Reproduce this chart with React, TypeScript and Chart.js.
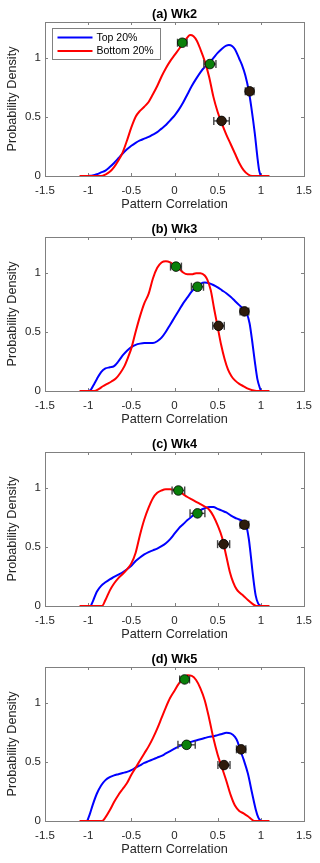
import React, { useEffect, useRef } from "react";
import { Chart, registerables } from "chart.js";

Chart.register(...registerables);

// ---------- data ----------
const X_TICKS = [-1.5, -1, -0.5, 0, 0.5, 1, 1.5];
const Y_TICKS = [0, 0.5, 1];
const X_MIN = -1.5;
const X_MAX = 1.5;
const Y_MIN = 0;
const Y_MAX = 1.3;

const PANEL_TITLES = ["(a) Wk2", "(b) Wk3", "(c) Wk4", "(d) Wk5"];
const SERIES_NAMES = ["Top 20%", "Bottom 20%"];
const X_LABEL = "Pattern Correlation";
const Y_LABEL = "Probability Density";

// PDF curves: [pattern correlation, density]
const TOP_WK2: [number, number][] = [
  [-1.0, 0], [-0.95, 0.005], [-0.9, 0.015], [-0.85, 0.03], [-0.8, 0.045], [-0.75, 0.075],
  [-0.7, 0.11], [-0.65, 0.15], [-0.6, 0.19], [-0.55, 0.225], [-0.5, 0.255], [-0.45, 0.28],
  [-0.4, 0.3], [-0.35, 0.315], [-0.3, 0.33], [-0.25, 0.35], [-0.2, 0.37], [-0.15, 0.4],
  [-0.1, 0.43], [-0.05, 0.47], [0, 0.51], [0.05, 0.56], [0.1, 0.62], [0.15, 0.69],
  [0.2, 0.76], [0.25, 0.82], [0.3, 0.875], [0.35, 0.92], [0.4, 0.95], [0.45, 0.995],
  [0.5, 1.04], [0.55, 1.075], [0.6, 1.1], [0.63, 1.105], [0.67, 1.095], [0.7, 1.07],
  [0.75, 0.99], [0.78, 0.94], [0.82, 0.85], [0.86, 0.72], [0.89, 0.58], [0.93, 0.36],
  [0.96, 0.16], [0.98, 0.05], [1.0, 0],
];
const BOTTOM_WK2: [number, number][] = [
  [-1.1, 0], [-0.85, 0], [-0.8, 0.012], [-0.75, 0.035], [-0.7, 0.075], [-0.65, 0.13],
  [-0.6, 0.2], [-0.55, 0.3], [-0.5, 0.41], [-0.45, 0.5], [-0.4, 0.55], [-0.35, 0.585],
  [-0.3, 0.625], [-0.25, 0.69], [-0.2, 0.76], [-0.15, 0.84], [-0.1, 0.91], [-0.05, 0.97],
  [0, 1.02], [0.05, 1.07], [0.1, 1.12], [0.15, 1.17], [0.18, 1.19], [0.22, 1.18],
  [0.26, 1.14], [0.3, 1.07], [0.35, 0.97], [0.4, 0.84], [0.45, 0.67], [0.5, 0.54],
  [0.55, 0.44], [0.6, 0.35], [0.65, 0.27], [0.7, 0.19], [0.75, 0.11], [0.8, 0.05],
  [0.85, 0.015], [0.9, 0], [1.1, 0],
];
const TOP_WK3: [number, number][] = [
  [-1.0, 0], [-0.97, 0.01], [-0.93, 0.06], [-0.9, 0.1], [-0.85, 0.16], [-0.8, 0.19],
  [-0.75, 0.2], [-0.7, 0.21], [-0.65, 0.25], [-0.6, 0.3], [-0.55, 0.34], [-0.5, 0.37],
  [-0.45, 0.39], [-0.4, 0.4], [-0.35, 0.405], [-0.3, 0.405], [-0.25, 0.405], [-0.2, 0.42],
  [-0.15, 0.45], [-0.1, 0.5], [-0.05, 0.56], [0, 0.62], [0.05, 0.68], [0.1, 0.74],
  [0.15, 0.79], [0.2, 0.84], [0.25, 0.88], [0.3, 0.905], [0.35, 0.915], [0.4, 0.91],
  [0.45, 0.895], [0.5, 0.875], [0.55, 0.85], [0.6, 0.825], [0.65, 0.795], [0.7, 0.76],
  [0.75, 0.725], [0.8, 0.69], [0.84, 0.65], [0.87, 0.57], [0.9, 0.42], [0.93, 0.25],
  [0.96, 0.1], [1.0, 0],
];
const BOTTOM_WK3: [number, number][] = [
  [-1.1, 0], [-0.93, 0], [-0.88, 0.015], [-0.83, 0.04], [-0.78, 0.06], [-0.73, 0.08],
  [-0.68, 0.105], [-0.63, 0.15], [-0.58, 0.21], [-0.54, 0.28], [-0.5, 0.36], [-0.45, 0.5],
  [-0.4, 0.63], [-0.35, 0.74], [-0.3, 0.82], [-0.25, 0.95], [-0.2, 1.04], [-0.15, 1.085],
  [-0.1, 1.095], [-0.05, 1.085], [0, 1.06], [0.05, 1.035], [0.1, 1.0], [0.15, 0.985],
  [0.2, 0.985], [0.25, 0.995], [0.3, 0.995], [0.35, 0.975], [0.38, 0.94], [0.42, 0.85],
  [0.46, 0.69], [0.5, 0.54], [0.54, 0.39], [0.58, 0.27], [0.62, 0.18], [0.66, 0.125],
  [0.7, 0.09], [0.75, 0.06], [0.8, 0.04], [0.85, 0.02], [0.9, 0.007], [0.95, 0], [1.1, 0],
];
const TOP_WK4: [number, number][] = [
  [-0.97, 0], [-0.94, 0.05], [-0.9, 0.12], [-0.85, 0.17], [-0.8, 0.2], [-0.75, 0.225],
  [-0.7, 0.245], [-0.65, 0.265], [-0.6, 0.285], [-0.55, 0.31], [-0.5, 0.34], [-0.45, 0.38],
  [-0.4, 0.41], [-0.35, 0.435], [-0.3, 0.455], [-0.25, 0.47], [-0.2, 0.485], [-0.15, 0.505],
  [-0.1, 0.53], [-0.05, 0.565], [0, 0.61], [0.05, 0.655], [0.1, 0.69], [0.15, 0.725],
  [0.2, 0.755], [0.25, 0.785], [0.3, 0.81], [0.35, 0.825], [0.4, 0.835], [0.45, 0.835],
  [0.5, 0.82], [0.55, 0.805], [0.6, 0.79], [0.65, 0.765], [0.7, 0.745], [0.75, 0.73],
  [0.8, 0.71], [0.83, 0.68], [0.86, 0.57], [0.88, 0.45], [0.91, 0.25], [0.94, 0.09],
  [0.97, 0.02], [1.0, 0],
];
const BOTTOM_WK4: [number, number][] = [
  [-1.1, 0], [-0.84, 0], [-0.8, 0.05], [-0.75, 0.13], [-0.7, 0.19], [-0.65, 0.235],
  [-0.6, 0.27], [-0.55, 0.31], [-0.5, 0.36], [-0.45, 0.45], [-0.4, 0.6], [-0.35, 0.73],
  [-0.3, 0.83], [-0.25, 0.91], [-0.2, 0.955], [-0.15, 0.975], [-0.1, 0.985], [-0.05, 0.985],
  [0, 0.98], [0.05, 0.97], [0.1, 0.945], [0.15, 0.92], [0.2, 0.9], [0.25, 0.88],
  [0.3, 0.86], [0.35, 0.84], [0.4, 0.815], [0.45, 0.76], [0.5, 0.68], [0.55, 0.58],
  [0.6, 0.42], [0.64, 0.29], [0.68, 0.2], [0.72, 0.14], [0.76, 0.11], [0.8, 0.085],
  [0.85, 0.05], [0.9, 0.02], [0.95, 0], [1.1, 0],
];
const TOP_WK5: [number, number][] = [
  [-1.01, 0], [-0.98, 0.06], [-0.95, 0.13], [-0.9, 0.23], [-0.85, 0.3], [-0.8, 0.345],
  [-0.75, 0.37], [-0.7, 0.385], [-0.65, 0.395], [-0.6, 0.405], [-0.55, 0.415], [-0.5, 0.43],
  [-0.45, 0.45], [-0.4, 0.47], [-0.35, 0.49], [-0.3, 0.505], [-0.25, 0.52], [-0.2, 0.535],
  [-0.15, 0.55], [-0.1, 0.57], [-0.05, 0.59], [0, 0.61], [0.05, 0.63], [0.1, 0.645],
  [0.15, 0.66], [0.2, 0.67], [0.25, 0.68], [0.3, 0.69], [0.35, 0.7], [0.4, 0.71],
  [0.45, 0.715], [0.5, 0.725], [0.55, 0.735], [0.6, 0.745], [0.65, 0.74], [0.7, 0.71],
  [0.73, 0.67], [0.76, 0.6], [0.8, 0.52], [0.85, 0.4], [0.9, 0.23], [0.94, 0.1],
  [0.97, 0.03], [1.0, 0],
];
const BOTTOM_WK5: [number, number][] = [
  [-1.1, 0], [-0.84, 0], [-0.8, 0.03], [-0.75, 0.09], [-0.7, 0.16], [-0.65, 0.22],
  [-0.6, 0.27], [-0.55, 0.32], [-0.5, 0.39], [-0.45, 0.45], [-0.4, 0.51], [-0.35, 0.57],
  [-0.3, 0.63], [-0.25, 0.7], [-0.2, 0.78], [-0.15, 0.87], [-0.1, 0.96], [-0.05, 1.04],
  [0, 1.1], [0.05, 1.16], [0.1, 1.2], [0.15, 1.23], [0.2, 1.225], [0.25, 1.19],
  [0.3, 1.12], [0.35, 1.02], [0.4, 0.87], [0.45, 0.7], [0.5, 0.56], [0.55, 0.45],
  [0.6, 0.34], [0.65, 0.22], [0.7, 0.13], [0.75, 0.085], [0.8, 0.065], [0.85, 0.04],
  [0.9, 0.01], [0.93, 0], [1.1, 0],
];

// Markers: [x, y, half-width of error bar]
const GREEN_WK2: [number, number, number][] = [[0.09, 1.125, 0.055], [0.41, 0.945, 0.07]];
const DARK_WK2: [number, number, number][] = [[0.545, 0.465, 0.09], [0.87, 0.715, 0.05]];
const GREEN_WK3: [number, number, number][] = [[0.017, 1.05, 0.063], [0.266, 0.88, 0.07]];
const DARK_WK3: [number, number, number][] = [[0.51, 0.55, 0.067], [0.81, 0.672, 0.05]];
const GREEN_WK4: [number, number, number][] = [[0.045, 0.975, 0.073], [0.266, 0.782, 0.086]];
const DARK_WK4: [number, number, number][] = [[0.569, 0.522, 0.07], [0.81, 0.686, 0.05]];
const GREEN_WK5: [number, number, number][] = [[0.117, 1.195, 0.057], [0.14, 0.643, 0.1]];
const DARK_WK5: [number, number, number][] = [[0.573, 0.472, 0.07], [0.772, 0.605, 0.054]];

const PANELS = [
  { title: PANEL_TITLES[0], top: TOP_WK2, bottom: BOTTOM_WK2, green: GREEN_WK2, dark: DARK_WK2, legend: true },
  { title: PANEL_TITLES[1], top: TOP_WK3, bottom: BOTTOM_WK3, green: GREEN_WK3, dark: DARK_WK3, legend: false },
  { title: PANEL_TITLES[2], top: TOP_WK4, bottom: BOTTOM_WK4, green: GREEN_WK4, dark: DARK_WK4, legend: false },
  { title: PANEL_TITLES[3], top: TOP_WK5, bottom: BOTTOM_WK5, green: GREEN_WK5, dark: DARK_WK5, legend: false },
];

// ---------- styling ----------
const FONT = '"Liberation Sans", Arial, Helvetica, sans-serif';
const AXIS_COLOR = "#808080";
const TEXT_COLOR = "#262626";
const BLUE = "#0000ff";
const RED = "#ff0000";
const GREEN = "#0a800a";
const DARK = "#2e1c0c";
const ERR_COLOR = "#454545";
const PANEL_W = 320;
const PANEL_H = 215;

type Panel = typeof PANELS[number];

function makePlugin(panel: Panel) {
  return {
    id: "matlabDecor",
    beforeDatasetsDraw(chart: any) {
      const { ctx, chartArea } = chart;
      const { left, right, top, bottom } = chartArea;
      const xs = chart.scales.x;
      const ys = chart.scales.y;
      ctx.save();
      ctx.strokeStyle = AXIS_COLOR;
      ctx.lineWidth = 1;
      ctx.strokeRect(Math.round(left) + 0.5, Math.round(top) + 0.5, Math.round(right - left), Math.round(bottom - top));
      const tl = 3;
      ctx.beginPath();
      X_TICKS.forEach((v) => {
        const px = Math.round(xs.getPixelForValue(v)) + 0.5;
        ctx.moveTo(px, bottom);
        ctx.lineTo(px, bottom - tl);
        ctx.moveTo(px, top);
        ctx.lineTo(px, top + tl);
      });
      Y_TICKS.forEach((v) => {
        const py = Math.round(ys.getPixelForValue(v)) + 0.5;
        ctx.moveTo(left, py);
        ctx.lineTo(left + tl, py);
        ctx.moveTo(right, py);
        ctx.lineTo(right - tl, py);
      });
      ctx.stroke();
      ctx.restore();
    },
    afterDraw(chart: any) {
      const { ctx, chartArea } = chart;
      ctx.save();
      ctx.fillStyle = "#000";
      ctx.font = `bold 12.7px ${FONT}`;
      ctx.textAlign = "center";
      ctx.textBaseline = "middle";
      ctx.fillText(panel.title, (chartArea.left + chartArea.right) / 2, 14);
      if (panel.legend) {
        const bx = chartArea.left + 7.5;
        const by = chartArea.top + 6.5;
        const bw = 108;
        const bh = 31;
        ctx.fillStyle = "#fff";
        ctx.fillRect(bx, by, bw, bh);
        ctx.strokeStyle = AXIS_COLOR;
        ctx.lineWidth = 1;
        ctx.strokeRect(bx, by, bw, bh);
        const colors = [BLUE, RED];
        SERIES_NAMES.forEach((name, i) => {
          const ly = by + 9 + i * 13.5;
          ctx.strokeStyle = colors[i];
          ctx.lineWidth = 2;
          ctx.beginPath();
          ctx.moveTo(bx + 5, ly);
          ctx.lineTo(bx + 40, ly);
          ctx.stroke();
          ctx.fillStyle = "#000";
          ctx.font = `10.5px ${FONT}`;
          ctx.textAlign = "left";
          ctx.textBaseline = "middle";
          ctx.fillText(name, bx + 44, ly + 0.5);
        });
      }
      ctx.restore();
    },
  };
}

function buildConfig(panel: Panel): any {
  const toPts = (arr: [number, number][]) => arr.map(([x, y]) => ({ x, y }));
  const markers = [...panel.green, ...panel.dark];
  const markerSet = (arr: [number, number, number][], color: string) => ({
    type: "scatter",
    data: arr.map(([x, y]) => ({ x, y })),
    pointRadius: 4.8,
    pointBackgroundColor: color,
    pointBorderColor: "#000",
    pointBorderWidth: 0.8,
    showLine: false,
  });
  const errSets = markers.map((m) => ({
    type: "line",
    data: [
      { x: m[0] - m[2], y: m[1] },
      { x: m[0] + m[2], y: m[1] },
    ],
    borderColor: ERR_COLOR,
    borderWidth: 1.4,
    pointStyle: "line",
    rotation: 90,
    pointRadius: 4,
    pointBorderColor: ERR_COLOR,
    pointBorderWidth: 1.4,
    tension: 0,
  }));
  const curve = (arr: [number, number][], color: string, label: string) => ({
    type: "line",
    label,
    data: toPts(arr),
    borderColor: color,
    borderWidth: 2,
    pointRadius: 0,
    cubicInterpolationMode: "monotone",
    fill: false,
  });
  return {
    type: "line",
    data: {
      datasets: [
        markerSet(panel.green, GREEN),
        markerSet(panel.dark, DARK),
        ...errSets,
        curve(panel.bottom, RED, SERIES_NAMES[1]),
        curve(panel.top, BLUE, SERIES_NAMES[0]),
      ],
    },
    options: {
      responsive: false,
      animation: false,
      events: [],
      layout: { padding: { top: 22, right: 14, left: 0, bottom: 0 } },
      plugins: { legend: { display: false }, tooltip: { enabled: false }, title: { display: false } },
      scales: {
        x: {
          type: "linear",
          min: X_MIN,
          max: X_MAX,
          afterBuildTicks: (s: any) => {
            s.ticks = X_TICKS.map((v) => ({ value: v }));
          },
          afterFit: (s: any) => {
            s.height = 39;
          },
          grid: { display: false, drawTicks: false },
          border: { display: false },
          ticks: {
            autoSkip: false,
            maxRotation: 0,
            padding: 8,
            color: TEXT_COLOR,
            font: { family: FONT, size: 11.5 },
            callback: (v: any) => String(v),
          },
          title: {
            display: true,
            text: X_LABEL,
            color: TEXT_COLOR,
            font: { family: FONT, size: 12.7 },
            padding: { top: 0, bottom: 3 },
          },
        },
        y: {
          type: "linear",
          min: Y_MIN,
          max: Y_MAX,
          afterBuildTicks: (s: any) => {
            s.ticks = Y_TICKS.map((v) => ({ value: v }));
          },
          afterFit: (s: any) => {
            s.width = 45;
          },
          grid: { display: false, drawTicks: false },
          border: { display: false },
          ticks: {
            padding: 4,
            color: TEXT_COLOR,
            font: { family: FONT, size: 11.5 },
            callback: (v: any) => String(v),
          },
          title: {
            display: true,
            text: Y_LABEL,
            color: TEXT_COLOR,
            font: { family: FONT, size: 12.7 },
            padding: { top: 5, bottom: 0 },
          },
        },
      },
    },
    plugins: [makePlugin(panel)],
  };
}

function PanelChart({ panel }: { panel: Panel }) {
  const ref = useRef<HTMLCanvasElement | null>(null);
  useEffect(() => {
    if (!ref.current) return;
    const chart = new Chart(ref.current, buildConfig(panel));
    return () => chart.destroy();
  }, [panel]);
  return (
    <canvas
      ref={ref}
      width={PANEL_W}
      height={PANEL_H}
      style={{ display: "block", width: PANEL_W, height: PANEL_H }}
    />
  );
}

export default function App() {
  return (
    <div
      style={{
        position: "absolute",
        left: 0,
        top: 0,
        width: 320,
        height: 863,
        background: "#fff",
      }}
    >
      {PANELS.map((p) => (
        <PanelChart key={p.title} panel={p} />
      ))}
    </div>
  );
}
